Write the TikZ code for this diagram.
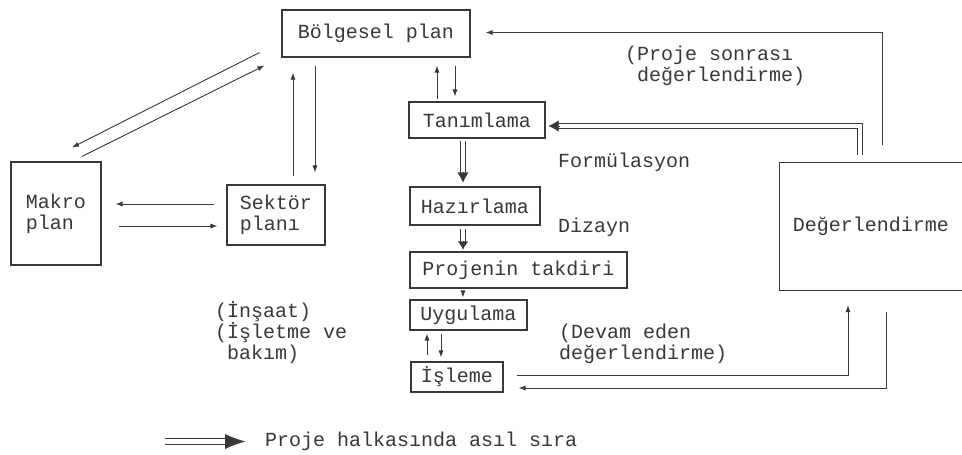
\documentclass[tikz,border=0pt]{standalone}
\usepackage{fontspec}
\setmainfont{Liberation Mono}
\usetikzlibrary{arrows.meta}
\definecolor{ink}{gray}{0.22}
\begin{document}
\begin{tikzpicture}[x=1pt,y=-1pt,
  every node/.style={font=\fontsize{20}{21}\selectfont, text=ink},
  box/.style={draw=ink, line width=1.1pt, inner sep=0pt, align=center},
  arr/.style={draw=ink, line width=0.9pt, -{Latex[length=7pt,width=5pt]}},
  dbl/.style={draw=ink, line width=0.9pt, double=white, double distance=4.5pt},
  dtip/.style={draw=ink, fill=ink, line width=0.1pt, -{Latex[length=10pt,width=11pt]}},
  lbl/.style={anchor=west, align=left, inner sep=0pt}]
\useasboundingbox (0,0) rectangle (962,455);
\fill[white] (0,0) rectangle (962,455);

% boxes
\node[box, minimum width=188pt, minimum height=47pt] (bolge) at (376,33.5) {Bölgesel plan};
\node[box, minimum width=90pt, minimum height=103pt, align=left] (makro) at (56,213.5) {Makro\\plan};
\node[box, minimum width=98pt, minimum height=60pt, align=left] (sek) at (276,215) {Sektör\\planı};
\node[box, minimum width=136pt, minimum height=36pt] (tan) at (477,120) {Tanımlama};
\node[box, minimum width=130pt, minimum height=38pt] (haz) at (475,206) {Hazırlama};
\node[box, minimum width=217pt, minimum height=36pt] (proj) at (518.5,270) {Projenin takdiri};
\node[box, minimum width=117pt, minimum height=30pt] (uyg) at (468.5,315) {Uygulama};
\node[box, minimum width=92pt, minimum height=30pt] (isl) at (457,377) {İşleme};
\node[inner sep=0pt, minimum width=182pt, minimum height=127pt] (deg) at (871,226.5) {Değerlendirme};
\draw[draw=ink, line width=1.1pt] (deg.north east) -- (deg.north west) -- (deg.south west) -- (deg.south east);

% labels
\node[lbl] (sonra) at (625,66) {(Proje sonrası\\\phantom{(}değerlendirme)};
\node[lbl] (form) at (558,162) {Formülasyon};
\node[lbl] (diz) at (558,227) {Dizayn};
\node[lbl] (dev) at (559,344) {(Devam eden\\değerlendirme)};
\node[lbl] (ins) at (215,333) {(İnşaat)\\(İşletme ve\\\phantom{(}bakım)};

% thin connectors
\draw[arr] ([xshift=-22pt,yshift=5pt]bolge.south west) -- ([xshift=16pt,yshift=14pt]makro.north);
\draw[arr] ([xshift=26pt,yshift=5pt]makro.north) -- ([xshift=-17pt,yshift=-8pt]bolge.south west);
\draw[arr] ([xshift=17pt,yshift=8pt]sek.north) -- ([xshift=-83pt,yshift=-15pt]bolge.south);
\draw[arr] ([xshift=-61pt,yshift=-8pt]bolge.south) -- ([xshift=39pt,yshift=12pt]sek.north);
\draw[arr] ([xshift=-12pt,yshift=11pt]sek.west) -- ([xshift=14pt,yshift=9.5pt]makro.east);
\draw[arr] ([xshift=17pt,yshift=-12.5pt]makro.east) -- ([xshift=-9pt,yshift=-11pt]sek.west);
\draw[arr] ([xshift=-40pt,yshift=2pt]tan.north) -- ([xshift=61pt,yshift=-8pt]bolge.south);
\draw[arr] ([xshift=79pt,yshift=-8pt]bolge.south) -- ([xshift=-22pt,yshift=5pt]tan.north);
\draw[arr] ([xshift=-55.5pt,yshift=-2pt]proj.south) -- ([xshift=-5.5pt,yshift=2pt]uyg.north);
\draw[arr] ([xshift=-30pt,yshift=6pt]isl.north) -- ([xshift=-41.5pt,yshift=-3pt]uyg.south);
\draw[arr] ([xshift=-27.5pt,yshift=-3pt]uyg.south) -- ([xshift=-16pt,yshift=4pt]isl.north);
\draw[arr] ([xshift=13pt,yshift=2pt]isl.east) -| ([xshift=-23pt,yshift=-15pt]deg.south);
\draw[arr] ([xshift=15pt,yshift=-22pt]deg.south) |- ([xshift=15pt,yshift=-11pt]isl.east);
\draw[arr] ([xshift=11pt,yshift=18pt]deg.north) |- ([xshift=15pt,yshift=1pt]bolge.east);

% double connectors (main sequence)
\draw[dbl, shorten >=9pt] ([xshift=-14pt,yshift=-2pt]tan.south) -- ([xshift=-12pt,yshift=4pt]haz.north);
\draw[dtip] ([xshift=-12pt,yshift=14pt]haz.north) -- ([xshift=-12pt,yshift=4pt]haz.north);
\draw[dbl, shorten >=7pt] ([xshift=-12pt,yshift=-3pt]haz.south) -- ([xshift=-55.5pt,yshift=2pt]proj.north);
\draw[dtip, -{Latex[length=8pt,width=10pt]}] ([xshift=-55.5pt,yshift=10pt]proj.north) -- ([xshift=-55.5pt,yshift=2pt]proj.north);
\draw[dbl, shorten >=9pt] ([xshift=-11pt,yshift=8pt]deg.north) |- ([xshift=3pt,yshift=-6pt]tan.east);
\draw[dtip] ([xshift=13pt,yshift=-6pt]tan.east) -- ([xshift=3pt,yshift=-6pt]tan.east);

% legend
\coordinate (lg1) at (165,441.5);
\coordinate (lg2) at (245,441.5);
\coordinate (lg3) at (230,441.5);
\draw[dbl, double distance=5pt, shorten >=16pt] (lg1) -- (lg2);
\draw[dtip, -{Latex[length=20pt,width=15pt]}] (lg3) -- (lg2);
\node[lbl] (leg) at (265,441) {Proje halkasında asıl sıra};
\end{tikzpicture}
\end{document}
